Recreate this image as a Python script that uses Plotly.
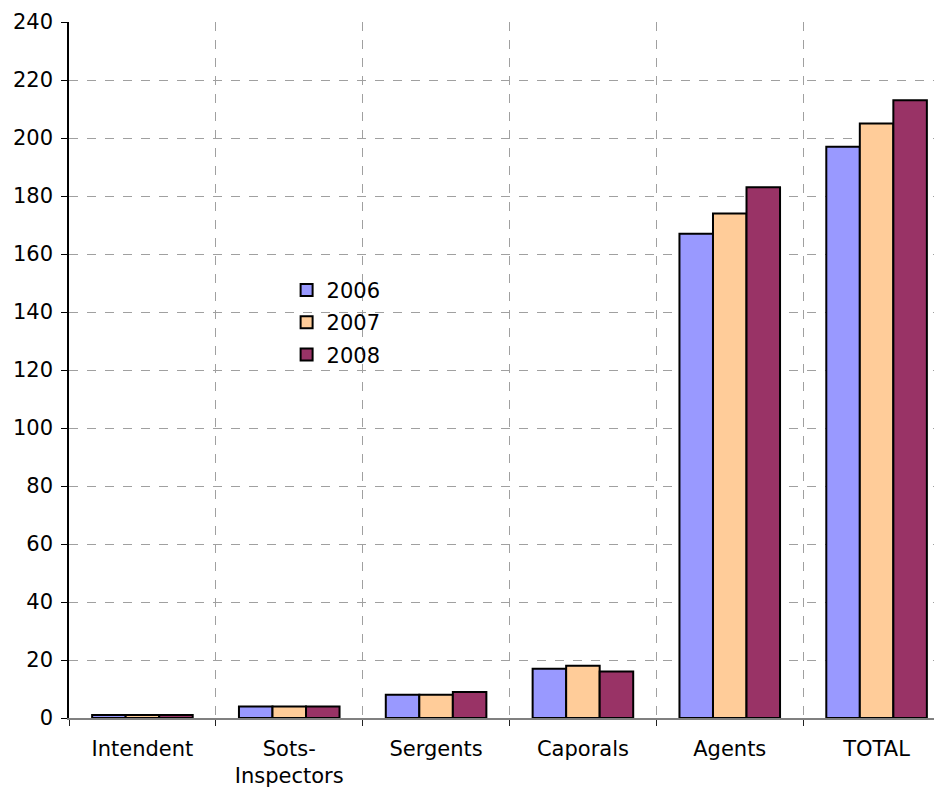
import plotly.graph_objects as go

categories = ["Intendent", "Sots-<br>Inspectors", "Sergents", "Caporals", "Agents", "TOTAL"]
years = ["2006", "2007", "2008"]
v2006 = [1, 4, 8, 17, 167, 197]
v2007 = [1, 4, 8, 18, 174, 205]
v2008 = [1, 4, 9, 16, 183, 213]
colors = ["#9999FF", "#FFCC99", "#993366"]

fig = go.Figure()
for name, vals, col in zip(years, [v2006, v2007, v2008], colors):
    fig.add_trace(go.Bar(x=categories, y=vals, name=name, legendgroup=name,
                         marker=dict(color=col, line=dict(color="black", width=2))))

font = dict(family="DejaVu Sans, Verdana, sans-serif", size=21, color="black")

# page has an 8px body margin, so the plot area runs past the right edge like the original
fig.update_layout(
    width=942, height=789,
    margin=dict(l=61, r=0, t=14, b=79),
    paper_bgcolor="white", plot_bgcolor="white",
    barmode="group", bargap=0.315, bargroupgap=0,
    font=font,
    legend=dict(x=0.247, y=0.644, xanchor="left", yanchor="top",
                bgcolor="rgba(0,0,0,0)", font=font, itemwidth=30,
                tracegroupgap=2),
)
fig.update_xaxes(
    range=[-0.5, 5.5], tickson="boundaries",
    showgrid=True, gridcolor="#A0A0A0", griddash="dash", gridwidth=1,
    showline=True, linecolor="#808080", linewidth=1.5,
    ticks="outside", ticklen=6, tickcolor="#222222",
    tickfont=font, ticklabelstandoff=11,
)
fig.update_yaxes(
    range=[0, 240], dtick=20,
    showgrid=True, gridcolor="#A0A0A0", griddash="dash", gridwidth=1,
    showline=True, linecolor="black", linewidth=1.5,
    ticks="outside", ticklen=6, tickcolor="black",
    tickfont=font, zeroline=False, ticklabelstandoff=4,
)

fig.write_html("out.html")
